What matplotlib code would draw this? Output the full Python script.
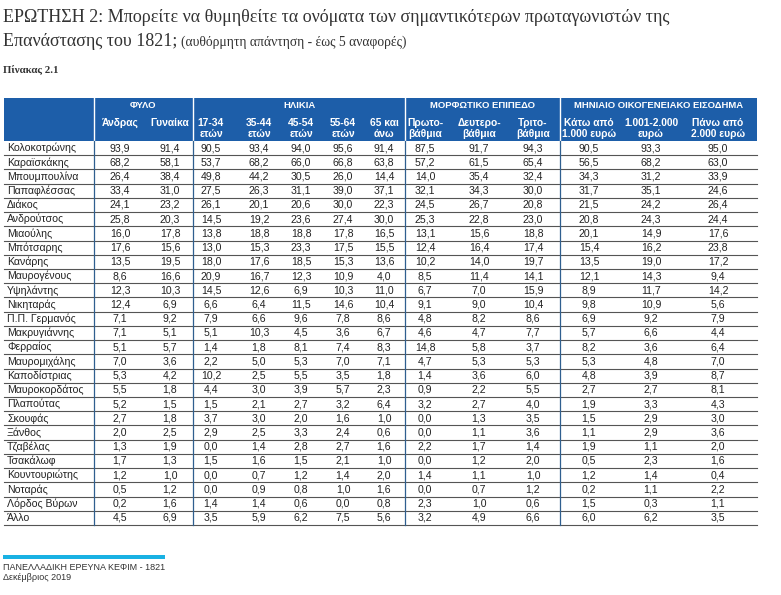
import matplotlib
matplotlib.use("Agg")
import matplotlib.pyplot as plt

# ─── Data ──────────────────────────────────────────────────────────
names = [
    "Κολοκοτρώνης", "Καραϊσκάκης", "Μπουμπουλίνα", "Παπαφλέσσας", "Διάκος",
    "Ανδρούτσος", "Μιαούλης", "Μπότσαρης", "Κανάρης", "Μαυρογένους",
    "Υψηλάντης", "Νικηταράς", "Π.Π. Γερμανός", "Μακρυγιάννης", "Φερραίος",
    "Μαυρομιχάλης", "Καποδίστριας", "Μαυροκορδάτος", "Πλαπούτας", "Σκουφάς",
    "Ξάνθος", "Τζαβέλας", "Τσακάλωφ", "Κουντουριώτης", "Νοταράς",
    "Λόρδος Βύρων", "Άλλο",
]

andras = [93.9, 68.2, 26.4, 33.4, 24.1, 25.8, 16.0, 17.6, 13.5, 8.6, 12.3, 12.4, 7.1,
          7.1, 5.1, 7.0, 5.3, 5.5, 5.2, 2.7, 2.0, 1.3, 1.7, 1.2, 0.5, 0.2, 4.5]
gynaika = [91.4, 58.1, 38.4, 31.0, 23.2, 20.3, 17.8, 15.6, 19.5, 16.6, 10.3, 6.9, 9.2,
           5.1, 5.7, 3.6, 4.2, 1.8, 1.5, 1.8, 2.5, 1.9, 1.3, 1.0, 1.2, 1.6, 6.9]
age_17_34 = [90.5, 53.7, 49.8, 27.5, 26.1, 14.5, 13.8, 13.0, 18.0, 20.9, 14.5, 6.6, 7.9,
             5.1, 1.4, 2.2, 10.2, 4.4, 1.5, 3.7, 2.9, 0.0, 1.5, 0.0, 0.0, 1.4, 3.5]
age_35_44 = [93.4, 68.2, 44.2, 26.3, 20.1, 19.2, 18.8, 15.3, 17.6, 16.7, 12.6, 6.4, 6.6,
             10.3, 1.8, 5.0, 2.5, 3.0, 2.1, 3.0, 2.5, 1.4, 1.6, 0.7, 0.9, 1.4, 5.9]
age_45_54 = [94.0, 66.0, 30.5, 31.1, 20.6, 23.6, 18.8, 23.3, 18.5, 12.3, 6.9, 11.5, 9.6,
             4.5, 8.1, 5.3, 5.5, 3.9, 2.7, 2.0, 3.3, 2.8, 1.5, 1.2, 0.8, 0.6, 6.2]
age_55_64 = [95.6, 66.8, 26.0, 39.0, 30.0, 27.4, 17.8, 17.5, 15.3, 10.9, 10.3, 14.6, 7.8,
             3.6, 7.4, 7.0, 3.5, 5.7, 3.2, 1.6, 2.4, 2.7, 2.1, 1.4, 1.0, 0.0, 7.5]
age_65 = [91.4, 63.8, 14.4, 37.1, 22.3, 30.0, 16.5, 15.5, 13.6, 4.0, 11.0, 10.4, 8.6,
          6.7, 8.3, 7.1, 1.8, 2.3, 6.4, 1.0, 0.6, 1.6, 1.0, 2.0, 1.6, 0.8, 5.6]
edu_prim = [87.5, 57.2, 14.0, 32.1, 24.5, 25.3, 13.1, 12.4, 10.2, 8.5, 6.7, 9.1, 4.8,
            4.6, 14.8, 4.7, 1.4, 0.9, 3.2, 0.0, 0.0, 2.2, 0.0, 1.4, 0.0, 2.3, 3.2]
edu_sec = [91.7, 61.5, 35.4, 34.3, 26.7, 22.8, 15.6, 16.4, 14.0, 11.4, 7.0, 9.0, 8.2,
           4.7, 5.8, 5.3, 3.6, 2.2, 2.7, 1.3, 1.1, 1.7, 1.2, 1.1, 0.7, 1.0, 4.9]
edu_ter = [94.3, 65.4, 32.4, 30.0, 20.8, 23.0, 18.8, 17.4, 19.7, 14.1, 15.9, 10.4, 8.6,
           7.7, 3.7, 5.3, 6.0, 5.5, 4.0, 3.5, 3.6, 1.4, 2.0, 1.0, 1.2, 0.6, 6.6]
inc_low = [90.5, 56.5, 34.3, 31.7, 21.5, 20.8, 20.1, 15.4, 13.5, 12.1, 8.9, 9.8, 6.9,
           5.7, 8.2, 5.3, 4.8, 2.7, 1.9, 1.5, 1.1, 1.9, 0.5, 1.2, 0.2, 1.5, 6.0]
inc_mid = [93.3, 68.2, 31.2, 35.1, 24.2, 24.3, 14.9, 16.2, 19.0, 14.3, 11.7, 10.9, 9.2,
           6.6, 3.6, 4.8, 3.9, 2.7, 3.3, 2.9, 2.9, 1.1, 2.3, 1.4, 1.1, 0.3, 6.2]
inc_high = [95.0, 63.0, 33.9, 24.6, 26.4, 24.4, 17.6, 23.8, 17.2, 9.4, 14.2, 5.6, 7.9,
            4.4, 6.4, 7.0, 8.7, 8.1, 4.3, 3.0, 3.6, 2.0, 1.6, 0.4, 2.2, 1.1, 3.5]

col_labels = ["Άνδρας", "Γυναίκα", "17-34\nετών", "35-44\nετών", "45-54\nετών",
              "55-64\nετών", "65 και\nάνω", "Πρωτο-\nβάθμια", "Δευτερο-\nβάθμια",
              "Τριτο-\nβάθμια", "Κάτω από\n1.000 ευρώ", "1.001-2.000\nευρώ",
              "Πάνω από\n2.000 ευρώ"]
group_labels = ["ΦΥΛΟ", "ΗΛΙΚΙΑ", "ΜΟΡΦΩΤΙΚΟ ΕΠΙΠΕΔΟ", "ΜΗΝΙΑΙΟ ΟΙΚΟΓΕΝΕΙΑΚΟ ΕΙΣΟΔΗΜΑ"]

columns = [andras, gynaika, age_17_34, age_35_44, age_45_54, age_55_64, age_65,
           edu_prim, edu_sec, edu_ter, inc_low, inc_mid, inc_high]

# ─── Layout (pixel coordinates) ────────────────────────────────────
W, H = 781, 595
X0, X1 = 4, 757
COL_X = [120, 170, 211, 259, 301, 343, 384, 425, 479, 533, 589, 651, 718]
SEPS = [94, 193, 405, 560]
GROUP_SPANS = [(94, 193), (193, 405), (405, 560), (560, 757)]
HEAD_TOP, HEAD_BOT = 98, 141
ROW_H = 14.22

BLUE = "#1d5ea9"
TXT = "#222222"
SANS = ["Liberation Sans", "DejaVu Sans"]
SERIF = ["Liberation Serif", "DejaVu Serif"]

fig = plt.figure(figsize=(W / 100, H / 100), dpi=100)
ax = fig.add_axes([0, 0, 1, 1])
ax.set_xlim(0, W)
ax.set_ylim(H, 0)
ax.axis("off")

# Title
ax.text(3, 18, "ΕΡΩΤΗΣΗ 2: Μπορείτε να θυμηθείτε τα ονόματα των σημαντικότερων "
        "πρωταγωνιστών της", family=SERIF, fontsize=13, color="#333333",
        va="center", ha="left")
t2 = ax.text(3, 41, "Επανάστασης του 1821;", family=SERIF, fontsize=13,
             color="#333333", va="center", ha="left")
fig.canvas.draw()
bb = t2.get_window_extent().transformed(ax.transData.inverted())
ax.text(bb.x1 + 4, 42, "(αυθόρμητη απάντηση - έως 5 αναφορές)", family=SERIF,
        fontsize=9.8, color="#333333", va="center", ha="left")
ax.text(3, 70, "Πίνακας 2.1", family=SERIF, fontsize=7.8, fontweight="bold",
        color="#333333", va="center", ha="left")

# Header band
ax.add_patch(plt.Rectangle((X0, HEAD_TOP), X1 - X0, HEAD_BOT - HEAD_TOP,
                           facecolor=BLUE, edgecolor="none"))
for sx in SEPS:
    ax.plot([sx, sx], [HEAD_TOP, HEAD_BOT], color="white", lw=1.0)
for (a, b), lab in zip(GROUP_SPANS, group_labels):
    ax.text((a + b) / 2, 105, lab, family=SANS, fontsize=6.8, fontweight="bold",
            color="white", ha="center", va="center")
for cx, lab in zip(COL_X, col_labels):
    ax.text(cx, 117.5, lab, family=SANS, fontsize=7.4, fontweight="bold",
            color="white", ha="center", va="top", linespacing=1.2)

# Body rows
n = len(names)
for i, name in enumerate(names):
    yc = HEAD_BOT + (i + 0.5) * ROW_H
    ax.text(7, yc, name, family=SANS, fontsize=7.6, color=TXT, ha="left", va="center")
    for cx, col in zip(COL_X, columns):
        ax.text(cx, yc, f"{col[i]:.1f}".replace(".", ","), family=SANS,
                fontsize=7.6, color=TXT, ha="center", va="center")
    yb = HEAD_BOT + (i + 1) * ROW_H
    ax.plot([X0, X1], [yb, yb], color="#555555", lw=0.8)

body_bot = HEAD_BOT + n * ROW_H
for sx in SEPS:
    ax.plot([sx, sx], [HEAD_BOT, body_bot], color="#2f5f8f", lw=0.9)

# Footer
ax.add_patch(plt.Rectangle((3, 555), 162, 4, facecolor="#19b1e3", edgecolor="none"))
ax.text(3, 567, "ΠΑΝΕΛΛΑΔΙΚΗ ΕΡΕΥΝΑ ΚΕΦΙΜ - 1821", family=SANS, fontsize=6.5,
        color="#333333", ha="left", va="center")
ax.text(3, 578, "Δεκέμβριος 2019", family=SANS, fontsize=6.5, color="#333333",
        ha="left", va="center")

fig.savefig("out.png", dpi=100, facecolor="white")
